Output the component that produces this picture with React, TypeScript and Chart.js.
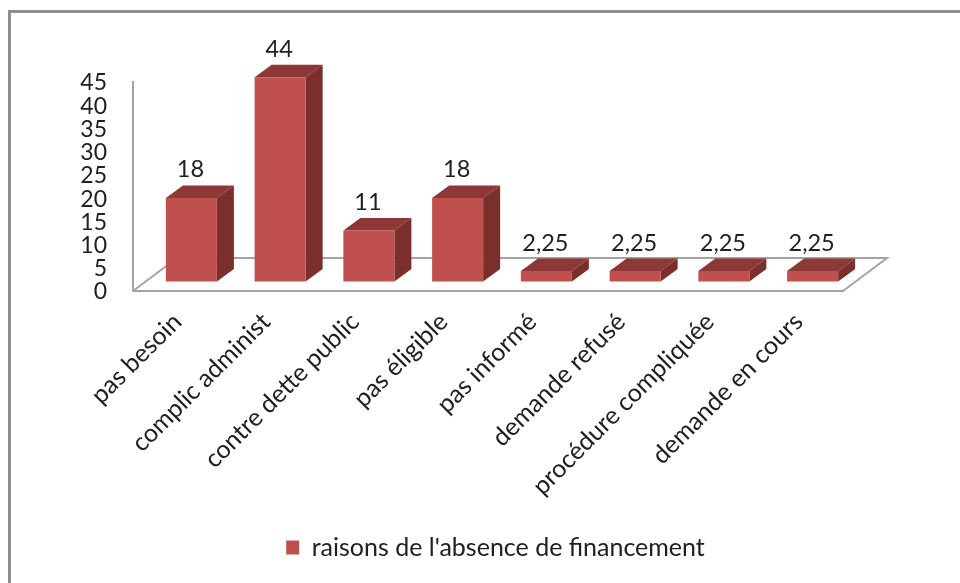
import React, { useEffect, useRef } from "react";
import { Chart, registerables } from "chart.js";

Chart.register(...registerables);

const categories = ["pas besoin", "complic administ", "contre dette public", "pas éligible", "pas informé", "demande refusé", "procédure compliquée", "demande en cours"];
const seriesName = "raisons de l'absence de financement";
const values = [18, 44, 11, 18, 2.25, 2.25, 2.25, 2.25];
const valueLabels = ["18", "44", "11", "18", "2,25", "2,25", "2,25", "2,25"];

const FONT = "Lato";
const TEXT = "#202020";
const AXIS = "#a3a3a3";
const FRONT = "#c0504d";
const TOP = "#8c3836";
const SIDE = "#7b2f2d";

const BAR_DX = 14;
const BAR_DY = -9.5;
const DEPTH_X = 17;
const DEPTH_Y = -12.5;
const FLOOR_X = 44;
const FLOOR_Y = -33;
const LEGEND_SHIFT = 44;

const poly = (ctx: CanvasRenderingContext2D, pts: number[][], fill: string) => {
  ctx.beginPath();
  pts.forEach(([x, y], i) => (i ? ctx.lineTo(x, y) : ctx.moveTo(x, y)));
  ctx.closePath();
  ctx.fillStyle = fill;
  ctx.fill();
};

const threeD = {
  id: "threeD",
  afterLayout(chart: any) {
    chart.legend.left += LEGEND_SHIFT;
    chart.legend.right += LEGEND_SHIFT;
  },
  beforeDatasetsDraw(chart: any) {
    const { ctx, chartArea: a } = chart;
    ctx.save();
    // floor outline
    ctx.strokeStyle = AXIS;
    ctx.lineWidth = 2;
    ctx.beginPath();
    ctx.moveTo(a.left, a.bottom);
    ctx.lineTo(a.left + FLOOR_X, a.bottom + FLOOR_Y);
    ctx.lineTo(a.right + FLOOR_X, a.bottom + FLOOR_Y);
    ctx.lineTo(a.right, a.bottom);
    ctx.stroke();
    // box sides, then move the front faces into the floor
    ctx.translate(BAR_DX, BAR_DY);
    chart.getDatasetMeta(0).data.forEach((el: any) => {
      const l = el.x - el.width / 2;
      const r = el.x + el.width / 2;
      poly(ctx, [[l, el.y], [l + DEPTH_X, el.y + DEPTH_Y], [r + DEPTH_X, el.y + DEPTH_Y], [r, el.y]], TOP);
      poly(ctx, [[r, el.y], [r + DEPTH_X, el.y + DEPTH_Y], [r + DEPTH_X, el.base + DEPTH_Y], [r, el.base]], SIDE);
    });
  },
  afterDatasetsDraw(chart: any) {
    const { ctx } = chart;
    ctx.textAlign = "center";
    ctx.textBaseline = "middle";
    ctx.font = `23.5px ${FONT}`;
    ctx.fillStyle = TEXT;
    chart.getDatasetMeta(0).data.forEach((el: any, i: number) => {
      ctx.fillText(valueLabels[i], el.x - 1, el.y - 28);
    });
    ctx.restore();
  },
};

export default function App() {
  const ref = useRef<HTMLCanvasElement>(null);
  useEffect(() => {
    const chart = new Chart(ref.current!, {
      type: "bar",
      data: {
        labels: categories,
        datasets: [{ label: seriesName, data: values, backgroundColor: FRONT, barPercentage: 0.575, categoryPercentage: 1, clip: false } as any],
      },
      plugins: [threeD],
      options: {
        animation: false,
        responsive: false,
        layout: { padding: { left: 60, right: 117, top: 82, bottom: 13 } },
        plugins: {
          tooltip: { enabled: false },
          legend: {
            position: "bottom",
            labels: { boxWidth: 13, boxHeight: 14, padding: 10, color: TEXT, font: { family: FONT, size: 25 } },
          },
        },
        scales: {
          x: {
            afterFit: (s: any) => { s.height = 234; },
            grid: { display: false },
            border: { color: AXIS, width: 2 },
            ticks: { autoSkip: false, minRotation: 45, maxRotation: 45, padding: 8, color: TEXT, font: { family: FONT, size: 25 } },
          },
          y: {
            min: 0,
            max: 45,
            afterFit: (s: any) => { s.width = 73; },
            grid: { display: false },
            border: { color: AXIS, width: 2 },
            ticks: { stepSize: 5, autoSkip: false, padding: 18, labelOffset: 1, color: TEXT, font: { family: FONT, size: 23 }, maxTicksLimit: 20 },
          },
        },
      } as any,
    });
    return () => chart.destroy();
  }, []);
  return (
    <div style={{ position: "absolute", left: 0, top: 0, width: 960, height: 583, overflow: "hidden", background: "#fff" }}>
      <div style={{ position: "absolute", left: 8, top: 10, right: -10, bottom: -10, borderLeft: "3px solid #8e8e8e", borderTop: "3px solid #8e8e8e" }} />
      <canvas ref={ref} width={960} height={583} style={{ position: "absolute", left: 0, top: 0 }} />
    </div>
  );
}
